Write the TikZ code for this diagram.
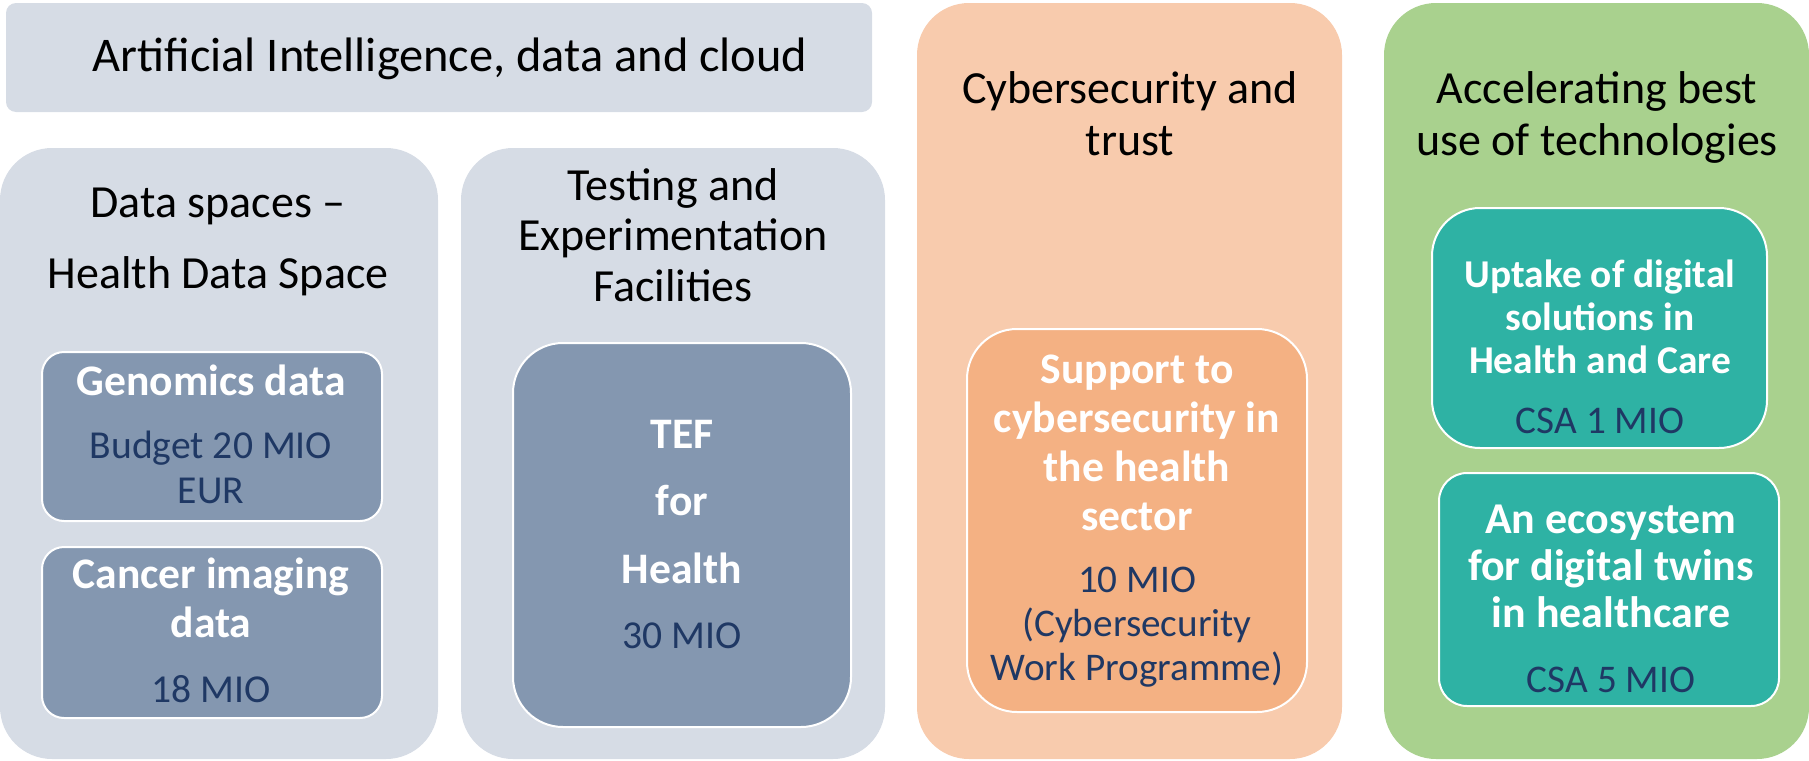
\documentclass[tikz,border=0pt]{standalone}
\usepackage{fontspec}
\setmainfont{Carlito}
\definecolor{lightbg}{HTML}{D6DCE5}
\definecolor{slate}{HTML}{8497B0}
\definecolor{orangebg}{HTML}{F8CBAD}
\definecolor{orangein}{HTML}{F4B183}
\definecolor{greenbg}{HTML}{A9D18E}
\definecolor{tealin}{HTML}{2EB2A4}
\definecolor{navy}{HTML}{1F3864}
\tikzset{
  outer/.style={rounded corners=26pt},
  inner/.style={draw=white, line width=1pt},
  hd/.style={align=center, anchor=base, inner sep=0pt, text=black},
  wt/.style={align=center, anchor=base, inner sep=0pt, text=white},
  nv/.style={align=center, anchor=base, inner sep=0pt, text=navy},
}
\begin{document}
\begin{tikzpicture}[x=0.5pt,y=-0.5pt]
\useasboundingbox (0,0) rectangle (1809,760);
% outer boxes
\fill[lightbg, rounded corners=5pt] (6,3) rectangle (872,112);
\fill[lightbg, outer] (0,148) rectangle (438,759);
\fill[lightbg, outer] (461,148) rectangle (885,759);
\fill[orangebg, outer] (917,3) rectangle (1342,759);
\fill[greenbg, outer] (1384,3) rectangle (1809,759);
% inner boxes
\filldraw[fill=slate, inner, rounded corners=11pt] (42,352) rectangle (382,521);
\filldraw[fill=slate, inner, rounded corners=11pt] (42,547) rectangle (382,718);
\filldraw[fill=slate, inner, rounded corners=25pt] (513,343) rectangle (851,727);
\filldraw[fill=orangein, inner, rounded corners=25pt] (967,329) rectangle (1307,712);
\filldraw[fill=tealin, inner, rounded corners=24pt] (1432,208) rectangle (1767,448);
\filldraw[fill=tealin, inner, rounded corners=14pt] (1439,473) rectangle (1779,706);
% headings (anchor = baseline of last line)
\node[hd, font=\fontsize{24.2}{29}\selectfont] (ai) at (450,71) {Artificial Intelligence, data and cloud};
\node[hd, font=\fontsize{23}{35.5}\selectfont] (ds) at (218,288) {Data spaces –\\Health Data Space};
\node[hd, font=\fontsize{23}{25.25}\selectfont] (tf) at (673,301) {Testing and\\Experimentation\\Facilities};
\node[hd, font=\fontsize{23}{26}\selectfont] (cy) at (1130,155) {Cybersecurity and\\trust};
\node[hd, font=\fontsize{23}{26}\selectfont] (ac) at (1597,155) {Accelerating best\\use of technologies};
% genomics
\node[wt, font=\fontsize{21.8}{24.5}\selectfont\bfseries] (gen) at (211,395) {Genomics data};
\node[nv, font=\fontsize{19.8}{22.5}\selectfont] (genm) at (211,503) {Budget 20 MIO\\EUR};
% cancer
\node[wt, font=\fontsize{21.8}{24.5}\selectfont\bfseries] (can) at (211,637) {Cancer imaging\\data};
\node[nv, font=\fontsize{19.8}{22.5}\selectfont] (canm) at (211,702) {18 MIO};
% TEF
\node[wt, font=\fontsize{21.8}{33.75}\selectfont\bfseries] (tef) at (682,583) {TEF\\for\\Health};
\node[nv, font=\fontsize{19.8}{22.5}\selectfont] (tefm) at (682,648) {30 MIO};
% support
\node[wt, font=\fontsize{21.8}{24.5}\selectfont\bfseries] (sup) at (1137,530) {Support to\\cybersecurity in\\the health\\sector};
\node[nv, font=\fontsize{19.6}{22}\selectfont] (supm) at (1137,680) {10 MIO\\(Cybersecurity\\Work Programme)};
% uptake
\node[wt, font=\fontsize{19.7}{21.5}\selectfont\bfseries] (upt) at (1600,373) {Uptake of digital\\solutions in\\Health and Care};
\node[nv, font=\fontsize{19.6}{22}\selectfont] (uptm) at (1600,433) {CSA 1 MIO};
% ecosystem
\node[wt, font=\fontsize{22}{23.5}\selectfont\bfseries] (eco) at (1611,627) {An ecosystem\\for digital twins\\in healthcare};
\node[nv, font=\fontsize{19.6}{22}\selectfont] (ecom) at (1611,692) {CSA 5 MIO};
\end{tikzpicture}
\end{document}
